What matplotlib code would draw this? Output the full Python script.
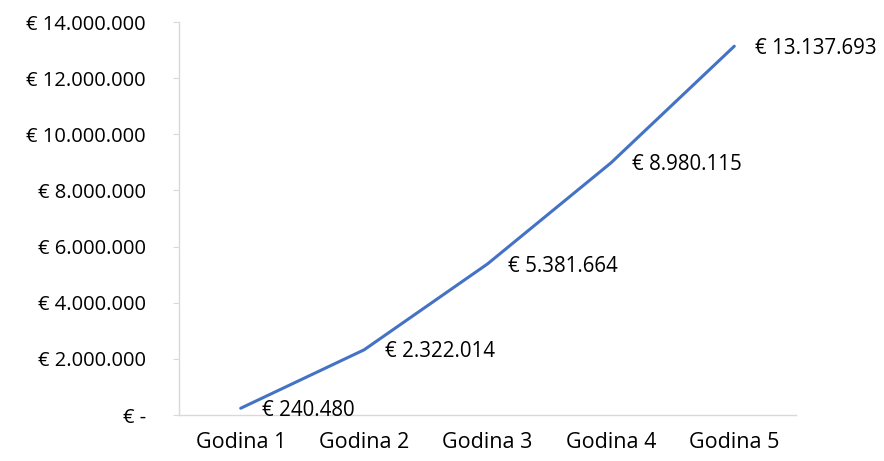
import matplotlib
matplotlib.use('Agg')
import matplotlib.pyplot as plt
from matplotlib.ticker import FuncFormatter

years = ['Godina 1', 'Godina 2', 'Godina 3', 'Godina 4', 'Godina 5']
values = [240480, 2322014, 5381664, 8980115, 13137693]


def euro(v):
    if v == 0:
        return '€ -'
    return '€ ' + format(int(round(v)), ',').replace(',', '.')


plt.rcParams['font.family'] = ['Open Sans', 'DejaVu Sans']

fig = plt.figure(figsize=(8.84, 4.61), dpi=100)
ax = fig.add_axes([179/884, 1 - 415/461, 617/884, 393/461])

x = list(range(len(years)))
ax.plot(x, values, color='#4472C4', lw=2.2, solid_capstyle='round')

for xi, v in zip(x, values):
    ax.annotate(euro(v), (xi, v), xytext=(15, -1.5), textcoords='offset points',
                ha='left', va='center', fontsize=14.8, color='#000000')

ax.set_xlim(-0.5, len(years) - 0.5)
ax.set_ylim(0, 14000000)
ax.set_yticks(range(0, 14000001, 2000000))
ax.yaxis.set_major_formatter(FuncFormatter(lambda v, p: euro(v)))
ax.set_xticks(x)
ax.set_xticklabels(years)

for s in ['top', 'right']:
    ax.spines[s].set_visible(False)
for s in ['left', 'bottom']:
    ax.spines[s].set_color('#D9D9D9')
    ax.spines[s].set_linewidth(1)
ax.tick_params(axis='y', length=4, color='#D9D9D9', labelsize=14.5, pad=20)
ax.tick_params(axis='x', length=0, labelsize=15.5, pad=12)

fig.savefig('out.png', dpi=100)
